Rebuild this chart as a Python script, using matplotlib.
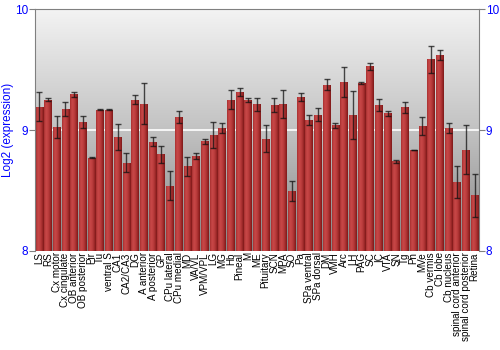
import numpy as np
import matplotlib
matplotlib.use("Agg")
import matplotlib.pyplot as plt
from matplotlib.colors import LinearSegmentedColormap

plt.rcParams['font.family'] = ['Liberation Sans', 'DejaVu Sans']

categories = ["LS", "RS", "Cx motor", "Cx cingulate", "OB anterior", "OB posterior", "Pir", "Tu",
              "ventral S", "CA1", "CA2/CA3", "DG", "A anterior", "A posterior", "GP", "CPu lateral",
              "CPu medial", "MD", "VA/VL", "VPM/VPL", "LG", "MG", "Hb", "Pineal", "M", "ME",
              "Pituitary", "SCN", "MPA", "SO", "Pa", "SPa ventral", "SPa dorsal", "DM", "VMH",
              "Arc", "LH", "PAG", "SC", "IC", "VTA", "SN", "Tg", "Pn", "MVe", "Cb vermis",
              "Cb lobe", "Cb nucleus", "spinal cord anterior", "spinal cord posterior", "Retina"]
values = [9.193, 9.254, 9.027, 9.174, 9.298, 9.069, 8.771, 9.171, 9.171, 8.945, 8.73, 9.254,
          9.221, 8.906, 8.799, 8.542, 9.108, 8.70, 8.785, 8.909, 8.959, 9.017, 9.254, 9.317,
          9.251, 9.213, 8.931, 9.207, 9.218, 8.495, 9.273, 9.086, 9.13, 9.378, 9.039,
          9.40, 9.124, 9.389, 9.53, 9.205, 9.141, 8.743, 9.19, 8.837, 9.033, 9.588,
          9.621, 9.019, 8.569, 8.84, 8.461]
errors = [0.12, 0.01, 0.09, 0.06, 0.02, 0.05, 0.005, 0.005, 0.005, 0.11, 0.08, 0.035,
          0.17, 0.04, 0.07, 0.12, 0.05, 0.08, 0.025, 0.02, 0.11, 0.04, 0.08, 0.03,
          0.017, 0.055, 0.11, 0.06, 0.115, 0.085, 0.035, 0.04, 0.05, 0.043, 0.02,
          0.125, 0.2, 0.01, 0.028, 0.05, 0.022, 0.014, 0.045, 0.003, 0.075, 0.113,
          0.043, 0.04, 0.134, 0.2, 0.18]
yticks = [8, 9, 10]
ylabel = "Log2 (expression)"

fig = plt.figure(figsize=(5, 3.5), dpi=100)
ax = fig.add_axes([0.07, 0.283, 0.888, 0.69])
x = np.arange(len(categories))

# background vertical gradient
bg = LinearSegmentedColormap.from_list("bg", ["#858585", "#c2c2c2", "#f3f3f3"])
grad = np.linspace(0, 1, 256).reshape(-1, 1)
ax.imshow(grad, aspect="auto", cmap=bg, origin="lower", extent=[0, 1, 0, 1],
          transform=ax.transAxes, zorder=0)
ax.axhline(9, color="white", lw=1.2, zorder=1)

# bars with horizontal gradient
barcm = LinearSegmentedColormap.from_list("bar", ["#a83030", "#c84848", "#c04040", "#a52e2e", "#7e1818"])
hgrad = np.linspace(0, 1, 64).reshape(1, -1)
width = 0.88
bars = ax.bar(x, np.array(values) - 8, bottom=8, width=width, color="#b03333", zorder=2)
for b in bars:
    im = ax.imshow(hgrad, aspect="auto", cmap=barcm,
                   extent=[b.get_x(), b.get_x() + b.get_width(), 8, 8 + b.get_height()],
                   zorder=2.5)
    im.set_clip_path(b)
ax.set_xlim(-0.5, len(categories) - 0.5)
ax.set_ylim(8, 10)

ax.errorbar(x, values, yerr=errors, fmt="none", ecolor="#111111", alpha=0.75,
            elinewidth=1.0, capsize=2.2, capthick=1.0, zorder=3)

for s in ["left", "right", "top"]:
    ax.spines[s].set_color("#808080")
ax.spines["bottom"].set_visible(False)

ax.set_xticks(x)
ax.set_xticklabels(categories, rotation=90, fontsize=7.1, color="black")
ax.tick_params(axis="x", length=0, pad=1)
ax.set_yticks(yticks)
ax.set_yticklabels([str(t) for t in yticks], fontsize=8.5, color="blue")
ax.tick_params(axis="y", length=4, color="#808080", pad=1,
               right=True, labelright=True)
ax.set_ylabel(ylabel, color="blue", fontsize=8.5)
ax.yaxis.set_label_coords(-0.047, 0.5)

fig.savefig("out.png", dpi=100)
